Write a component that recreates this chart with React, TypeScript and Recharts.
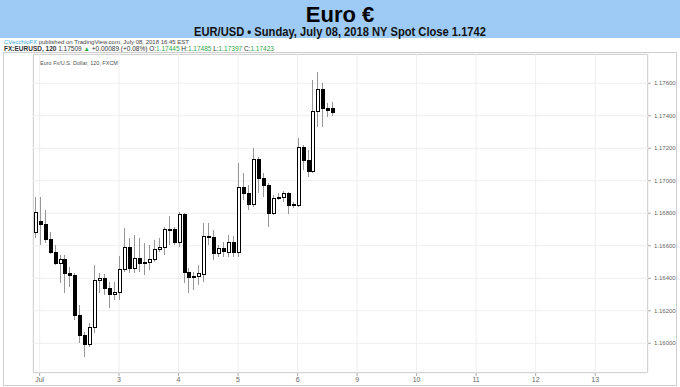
import React from 'react';
import { ComposedChart, Bar, XAxis, YAxis, CartesianGrid } from 'recharts';

const openVals = [
  1.16683, 1.16751, 1.16736, 1.16642, 1.16564, 1.16496, 1.16521, 1.16434, 1.16418, 1.16174,
  1.16051, 1.15996, 1.16102, 1.16388, 1.164, 1.16342, 1.16301, 1.16318, 1.16455, 1.16591,
  1.16465, 1.16523, 1.16496, 1.165, 1.16519, 1.16578, 1.16594, 1.16703, 1.16706, 1.16625,
  1.16794, 1.16441, 1.16406, 1.16414, 1.16425, 1.1666, 1.16654, 1.16554, 1.16585, 1.16564,
  1.16625, 1.16564, 1.16964, 1.16927, 1.16857, 1.17136, 1.17019, 1.16974, 1.168, 1.16892,
  1.16902, 1.16923, 1.16851, 1.16851, 1.17206, 1.17128, 1.17062, 1.1743, 1.17563, 1.1745,
  1.17445,
];
const highVals = [
  1.16902, 1.16902, 1.1682, 1.16687, 1.16605, 1.16543, 1.16543, 1.16468, 1.16431, 1.16236,
  1.16071, 1.16123, 1.16482, 1.16431, 1.16426, 1.16379, 1.16379, 1.16537, 1.16708, 1.16646,
  1.16666, 1.16646, 1.16615, 1.16605, 1.16636, 1.16646, 1.16718, 1.16783, 1.16718, 1.1681,
  1.168, 1.16462, 1.16441, 1.16482, 1.16742, 1.16742, 1.16697, 1.16605, 1.16625, 1.16666,
  1.1666, 1.17108, 1.17046, 1.16974, 1.172, 1.17148, 1.17046, 1.16985, 1.16913, 1.16923,
  1.1694, 1.16933, 1.1687, 1.17262, 1.1722, 1.1719, 1.1762, 1.17668, 1.17604, 1.17477,
  1.17485,
];
const lowVals = [
  1.16646, 1.16605, 1.16617, 1.1655, 1.16482, 1.16369, 1.16308, 1.16348, 1.16143, 1.16,
  1.15918, 1.15979, 1.16062, 1.16308, 1.16297, 1.16215, 1.16266, 1.16266, 1.16441, 1.16431,
  1.16431, 1.16441, 1.1642, 1.16451, 1.16502, 1.16564, 1.16543, 1.16605, 1.16605, 1.16594,
  1.16369, 1.16308, 1.16328, 1.16359, 1.16379, 1.16605, 1.16513, 1.16533, 1.16533, 1.16533,
  1.16533, 1.16533, 1.16882, 1.1682, 1.1684, 1.16923, 1.16902, 1.16718, 1.1679, 1.16882,
  1.1687, 1.16796, 1.1683, 1.1684, 1.17066, 1.17025, 1.17046, 1.17333, 1.17333, 1.17394,
  1.17397,
];
const closeVals = [
  1.1681, 1.16736, 1.16642, 1.16564, 1.16496, 1.16521, 1.16434, 1.16418, 1.16174, 1.16051,
  1.15996, 1.16102, 1.1639, 1.164, 1.16342, 1.16301, 1.16318, 1.16455, 1.16591, 1.16465,
  1.16523, 1.16496, 1.165, 1.16519, 1.16578, 1.16594, 1.16703, 1.16706, 1.16625, 1.16794,
  1.16441, 1.16406, 1.16414, 1.16431, 1.1666, 1.16654, 1.16554, 1.16585, 1.1657, 1.16625,
  1.16564, 1.16964, 1.16927, 1.16857, 1.17136, 1.17019, 1.16974, 1.168, 1.16892, 1.16902,
  1.16923, 1.16851, 1.16858, 1.17206, 1.17128, 1.17062, 1.1743, 1.17563, 1.1745, 1.17436,
  1.17423,
];

const dayTicks = [1, 17, 29, 41, 53, 65, 77, 89, 101, 113];
const dayLabels = ['Jul', '3', '4', '5', '6', '9', '10', '11', '12', '13'];
const priceTicks = [1.16, 1.162, 1.164, 1.166, 1.168, 1.17, 1.172, 1.174, 1.176];

const data = openVals.map((o, i) => ({
  i,
  open: o,
  high: highVals[i],
  low: lowVals[i],
  close: closeVals[i],
}));

const Candle = (props: any) => {
  const { x, y, width, height, payload } = props;
  if (x == null || y == null || !payload) return null;
  const { open, close, high, low } = payload;
  const cx = Math.round(x + width / 2) + 0.5;
  const span = high - low || 1e-9;
  const toY = (p: number) => y + ((high - p) / span) * height;
  let top = Math.round(toY(Math.max(open, close))) + 0.5;
  let bot = Math.round(toY(Math.min(open, close))) + 0.5;
  if (bot - top < 1) bot = top + 1;
  const up = close >= open;
  return (
    <g shapeRendering="crispEdges">
      <line x1={cx} x2={cx} y1={y} y2={y + height} stroke="#969696" strokeWidth={1} />
      <rect x={cx - 1.5} y={top} width={3} height={bot - top} fill={up ? '#ffffff' : '#000000'} stroke="#000" strokeWidth={1} />
    </g>
  );
};

const font = '"Liberation Sans", Arial, sans-serif';

export default function App() {
  return (
    <div style={{ position: 'absolute', left: 0, top: 0, width: 680, height: 387, background: '#fff', overflow: 'hidden' }}>
      <svg width={680} height={387} style={{ position: 'absolute', left: 0, top: 0 }}>
        <rect x={0} y={0} width={680} height={38} fill="#9ecbf5" />
        <text x={340} y={22} textAnchor="middle" fontFamily={font} fontWeight="bold" fontSize={22} fill="#000">Euro €</text>
        <text x={340} y={35.5} textAnchor="middle" fontFamily={font} fontWeight="bold" fontSize={12.5} fill="#111" textLength={292} lengthAdjust="spacingAndGlyphs">EUR/USD • Sunday, July 08, 2018 NY Spot Close 1.1742</text>
        <text x={4} y={43.5} fontFamily={font} fontSize={6} fill="#444">
          <tspan fill="#39a9dc">CVecchioFX</tspan>
          <tspan> published on TradingView.com, July 08, 2018 16:45 EST</tspan>
        </text>
        <text x={4} y={50.5} fontFamily={font} fontSize={6.5} fill="#333">
          <tspan fontWeight="bold">FX:EURUSD, 120</tspan>
          <tspan> 1.17509 </tspan>
          <tspan fill="#2ea84a">▲</tspan>
          <tspan> +0.00089 (+0.08%) O:</tspan>
          <tspan fill="#2ea84a">1.17445</tspan>
          <tspan> H:</tspan>
          <tspan fill="#2ea84a">1.17485</tspan>
          <tspan> L:</tspan>
          <tspan fill="#2ea84a">1.17397</tspan>
          <tspan> C:</tspan>
          <tspan fill="#2ea84a">1.17423</tspan>
        </text>
        <rect x={3.5} y={52.5} width={673} height={333} fill="none" stroke="#cfcfcf" />
        <rect x={33.5} y={54.5} width={614} height={318} fill="none" stroke="#b8b8b8" />
        <text x={40} y={65} fontFamily={font} fontSize={5.5} fill="#555">Euro Fx/U.S. Dollar, 120, FXCM</text>
      </svg>
      <div style={{ position: 'absolute', left: 0, top: 0 }}>
        <ComposedChart width={680} height={387} data={data} margin={{ top: 54, right: 0, bottom: 2, left: 33 }}>
          <CartesianGrid stroke="#eeeeee" strokeWidth={1} />
          <XAxis
            dataKey="i"
            type="number"
            domain={[-0.343, 123.65]}
            allowDataOverflow
            ticks={dayTicks}
            tickFormatter={(v: number) => dayLabels[dayTicks.indexOf(v)] ?? ''}
            height={12}
            axisLine={false}
            tickSize={3}
            tickMargin={1}
            tickLine={{ stroke: '#aaa' }}
            tick={{ fontSize: 7, fill: '#666', fontFamily: font }}
            interval={0}
          />
          <YAxis
            orientation="right"
            type="number"
            domain={[1.15817, 1.1778]}
            allowDataOverflow
            ticks={priceTicks}
            tickFormatter={(v: number) => v.toFixed(5)}
            width={32}
            axisLine={false}
            tickSize={3}
            tickMargin={3}
            tickLine={{ stroke: '#aaa' }}
            tick={{ fontSize: 6, fill: '#666', fontFamily: font }}
            interval={0}
          />
          <Bar dataKey={(d: any) => [d.low, d.high]} shape={<Candle />} isAnimationActive={false} />
        </ComposedChart>
      </div>
    </div>
  );
}
